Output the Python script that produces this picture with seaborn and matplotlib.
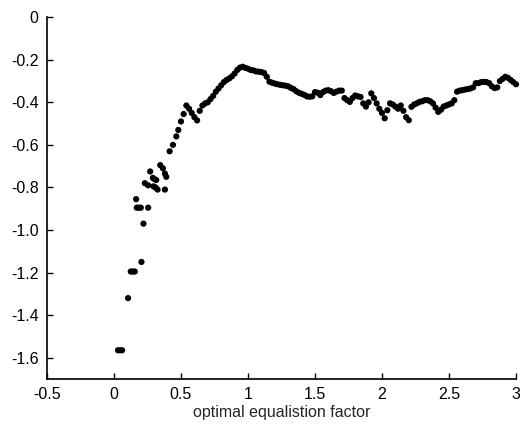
import numpy as np
import pandas as pd
import matplotlib
matplotlib.use("Agg")
import matplotlib.pyplot as plt
import seaborn as sns

sns.set_style("ticks")
plt.rcParams['font.family'] = ['Liberation Sans', 'DejaVu Sans']

# early, sparse part of the curve
early_x = [0.030, 0.045, 0.060, 0.105, 0.125, 0.140, 0.155, 0.165, 0.170, 0.185,
           0.200, 0.205, 0.220, 0.230, 0.255, 0.255, 0.270, 0.290, 0.300, 0.315,
           0.295, 0.310, 0.325, 0.345, 0.365, 0.380, 0.390, 0.380, 0.415, 0.440,
           0.465, 0.480]
early_y = [-1.565, -1.565, -1.565, -1.320, -1.195, -1.195, -1.195, -0.855, -0.895, -0.895,
           -0.895, -1.150, -0.970, -0.780, -0.790, -0.895, -0.725, -0.755, -0.760, -0.765,
           -0.795, -0.800, -0.810, -0.695, -0.710, -0.735, -0.750, -0.810, -0.630, -0.600,
           -0.560, -0.530]

# dense part, every 0.02 from 0.50 to 3.00
dense_x = [0.50, 0.52, 0.54, 0.56, 0.58, 0.60, 0.62, 0.64, 0.66, 0.68,
           0.70, 0.72, 0.74, 0.76, 0.78, 0.80, 0.82, 0.84, 0.86, 0.88,
           0.90, 0.92, 0.94, 0.96, 0.98, 1.00, 1.02, 1.04, 1.06, 1.08,
           1.10, 1.12, 1.14, 1.16, 1.18, 1.20, 1.22, 1.24, 1.26, 1.28,
           1.30, 1.32, 1.34, 1.36, 1.38, 1.40, 1.42, 1.44, 1.46, 1.48,
           1.50, 1.52, 1.54, 1.56, 1.58, 1.60, 1.62, 1.64, 1.66, 1.68,
           1.70, 1.72, 1.74, 1.76, 1.78, 1.80, 1.82, 1.84, 1.86, 1.88,
           1.90, 1.92, 1.94, 1.96, 1.98, 2.00, 2.02, 2.04, 2.06, 2.08,
           2.10, 2.12, 2.14, 2.16, 2.18, 2.20, 2.22, 2.24, 2.26, 2.28,
           2.30, 2.32, 2.34, 2.36, 2.38, 2.40, 2.42, 2.44, 2.46, 2.48,
           2.50, 2.52, 2.54, 2.56, 2.58, 2.60, 2.62, 2.64, 2.66, 2.68,
           2.70, 2.72, 2.74, 2.76, 2.78, 2.80, 2.82, 2.84, 2.86, 2.88,
           2.90, 2.92, 2.94, 2.96, 2.98, 3.00]
dense_y = [-0.490, -0.455, -0.415, -0.430, -0.450, -0.470, -0.485, -0.440, -0.415, -0.405,
           -0.400, -0.385, -0.370, -0.350, -0.335, -0.320, -0.305, -0.295, -0.288, -0.278,
           -0.265, -0.248, -0.237, -0.233, -0.238, -0.242, -0.248, -0.250, -0.255, -0.256,
           -0.258, -0.262, -0.280, -0.303, -0.308, -0.312, -0.315, -0.318, -0.320, -0.322,
           -0.325, -0.332, -0.338, -0.348, -0.355, -0.360, -0.365, -0.372, -0.374, -0.372,
           -0.352, -0.355, -0.366, -0.352, -0.345, -0.343, -0.348, -0.356, -0.350, -0.345,
           -0.345, -0.380, -0.390, -0.398, -0.380, -0.368, -0.372, -0.375, -0.405, -0.420,
           -0.400, -0.358, -0.380, -0.405, -0.430, -0.450, -0.475, -0.437, -0.405, -0.410,
           -0.420, -0.430, -0.415, -0.440, -0.470, -0.484, -0.421, -0.410, -0.405, -0.398,
           -0.395, -0.390, -0.390, -0.395, -0.405, -0.425, -0.445, -0.435, -0.420, -0.415,
           -0.410, -0.405, -0.390, -0.350, -0.345, -0.343, -0.340, -0.338, -0.335, -0.330,
           -0.310, -0.310, -0.305, -0.304, -0.305, -0.310, -0.325, -0.333, -0.330, -0.300,
           -0.290, -0.280, -0.285, -0.295, -0.305, -0.315]

x_ticks = [-0.5, 0, 0.5, 1, 1.5, 2, 2.5, 3]
x_tick_labels = ["-0.5", "0", "0.5", "1", "1.5", "2", "2.5", "3"]
y_ticks = [0, -0.2, -0.4, -0.6, -0.8, -1.0, -1.2, -1.4, -1.6]
y_tick_labels = ["0", "-0.2", "-0.4", "-0.6", "-0.8", "-1.0", "-1.2", "-1.4", "-1.6"]

df = pd.DataFrame({"x": early_x + dense_x, "y": early_y + dense_y})

fig = plt.figure(figsize=(5.24, 4.37), dpi=100)
ax = fig.add_axes([0.0897, 0.1327, 0.895, 0.828])

sns.scatterplot(data=df, x="x", y="y", ax=ax, color="black", s=20,
                edgecolor="none", linewidth=0, clip_on=False)

ax.set_xlim(-0.5, 3)
ax.set_ylim(-1.7, 0)
ax.set_xticks(x_ticks)
ax.set_xticklabels(x_tick_labels)
ax.set_yticks(y_ticks)
ax.set_yticklabels(y_tick_labels)
ax.tick_params(direction="in", length=4, width=1, labelsize=11.5, colors="black", pad=6)

sns.despine(ax=ax)
for side in ["left", "bottom"]:
    ax.spines[side].set_linewidth(1.2)
    ax.spines[side].set_color("black")

ax.set_xlabel("optimal equalistion factor", fontsize=11.5, labelpad=2)
ax.set_ylabel("")

fig.savefig("out.png", dpi=100)
